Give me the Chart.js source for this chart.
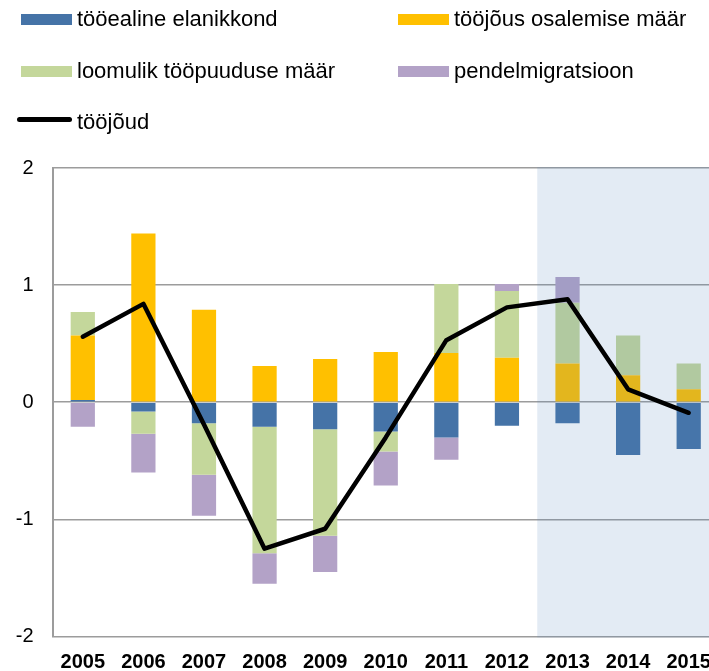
<!DOCTYPE html>
<html>
<head>
<meta charset="utf-8">
<script src="https://cdn.jsdelivr.net/npm/chart.js@4.4.1/dist/chart.umd.min.js"></script>
<style>
  html, body { margin: 0; padding: 0; background: #fff; overflow: hidden; width: 709px; height: 671px; }
  #wrap { position: relative; width: 709px; height: 671px; overflow: hidden; }
  #c { position: absolute; left: 0; top: 0; }
  .lg { position: absolute; font-family: "Liberation Sans", Arial, sans-serif; font-size: 22px; color: #000; white-space: nowrap; line-height: 1; }
  .sw { position: absolute; }
</style>
</head>
<body>
<div id="wrap">
  <canvas id="c" width="730" height="700"></canvas>
  <div id="legend"></div>
</div>
<script>
// ---- data ----
const categories = ['2005','2006','2007','2008','2009','2010','2011','2012','2013','2014','2015'];
const tooealineElanikkond = [0.02, -0.08, -0.18, -0.21, -0.23, -0.25, -0.30, -0.20, -0.18, -0.45, -0.40];
const toojousOsalemiseMaar = [0.55, 1.44, 0.79, 0.31, 0.37, 0.43, 0.42, 0.38, 0.33, 0.23, 0.11];
const loomulikToopuuduseMaar = [0.20, -0.19, -0.44, -1.08, -0.91, -0.17, 0.59, 0.57, 0.52, 0.34, 0.22];
const pendelmigratsioon = [-0.21, -0.33, -0.35, -0.26, -0.31, -0.29, -0.19, 0.06, 0.22, 0, 0];
const toojoud = [0.56, 0.84, -0.19, -1.25, -1.08, -0.30, 0.53, 0.81, 0.88, 0.11, -0.09];
const yTicks = [-2, -1, 0, 1, 2];
const forecastStart = '2013';

const seriesLabels = ['tööealine elanikkond', 'tööjõus osalemise määr', 'loomulik tööpuuduse määr', 'pendelmigratsioon', 'tööjõud'];
const seriesColors = ['#4573a7', '#ffc000', '#c4d79b', '#b3a2c7', '#000000'];

// ---- legend (HTML) ----
const legendPos = [
  {x: 21, y: 19}, {x: 398, y: 19},
  {x: 21, y: 71}, {x: 398, y: 71},
  {x: 21, y: 122}
];
const legendEl = document.getElementById('legend');
seriesLabels.forEach((lab, i) => {
  const p = legendPos[i];
  const sw = document.createElement('div');
  sw.className = 'sw';
  if (i < 4) {
    sw.style.cssText = `left:${p.x}px;top:${p.y - 5.5}px;width:51px;height:11px;background:${seriesColors[i]};`;
  } else {
    sw.style.cssText = `left:${p.x - 4}px;top:${p.y - 5}px;width:55px;height:5px;background:${seriesColors[i]};border-radius:3px;`;
  }
  legendEl.appendChild(sw);
  const t = document.createElement('div');
  t.className = 'lg';
  t.textContent = lab;
  t.style.left = (p.x + 56) + 'px';
  t.style.top = (p.y - 11) + 'px';
  legendEl.appendChild(t);
});

// ---- forecast shading plugin ----
const shadePlugin = {
  id: 'shade',
  beforeDatasetDraw(chart, args) {
    if (args.meta.type !== 'line') return;
    const xs = chart.scales.x, ca = chart.chartArea;
    const idx = categories.indexOf(forecastStart);
    const x0 = xs.getPixelForValue(idx - 0.5);
    const ctx = chart.ctx;
    ctx.save();
    ctx.fillStyle = 'rgba(79,129,189,0.16)';
    ctx.fillRect(x0, ca.top - 1, ca.right - x0, ca.bottom - ca.top + 2);
    ctx.restore();
  }
};

const barCommon = { type: 'bar', stack: 's', order: 1, borderWidth: 0, barPercentage: 0.4, categoryPercentage: 1.0 };

new Chart(document.getElementById('c'), {
  data: {
    labels: categories,
    datasets: [
      Object.assign({ label: seriesLabels[0], data: tooealineElanikkond, backgroundColor: seriesColors[0] }, barCommon),
      Object.assign({ label: seriesLabels[1], data: toojousOsalemiseMaar, backgroundColor: seriesColors[1] }, barCommon),
      Object.assign({ label: seriesLabels[2], data: loomulikToopuuduseMaar, backgroundColor: seriesColors[2] }, barCommon),
      Object.assign({ label: seriesLabels[3], data: pendelmigratsioon, backgroundColor: seriesColors[3] }, barCommon),
      { type: 'line', label: seriesLabels[4], data: toojoud, borderColor: seriesColors[4], borderWidth: 4.5,
        pointRadius: 0, tension: 0, order: 0, borderJoinStyle: 'round', borderCapStyle: 'round', fill: false }
    ]
  },
  options: {
    responsive: false,
    animation: false,
    devicePixelRatio: 1,
    layout: { padding: { top: 168, left: 0, right: 11, bottom: 23.5 } },
    plugins: { legend: { display: false }, tooltip: { enabled: false } },
    scales: {
      x: {
        stacked: true,
        grid: { display: false, drawTicks: false },
        border: { display: false },
        ticks: { color: '#000', font: { family: '"Liberation Sans", Arial, sans-serif', size: 20, weight: 'bold' }, padding: 14, maxRotation: 0, autoSkip: false },
        afterFit(s) { s.height = 40; }
      },
      y: {
        stacked: true,
        min: yTicks[0], max: yTicks[yTicks.length - 1],
        afterBuildTicks(s) { s.ticks = yTicks.map(v => ({ value: v })); },
        grid: { color: '#9c9c9c', lineWidth: 1.6, drawTicks: false },
        border: { display: true, color: '#9c9c9c', width: 2 },
        ticks: { color: '#000', font: { family: '"Liberation Sans", Arial, sans-serif', size: 20 }, padding: 19 },
        afterFit(s) { s.width = 52.5; }
      }
    }
  },
  plugins: [shadePlugin]
});
</script>
</body>
</html>
